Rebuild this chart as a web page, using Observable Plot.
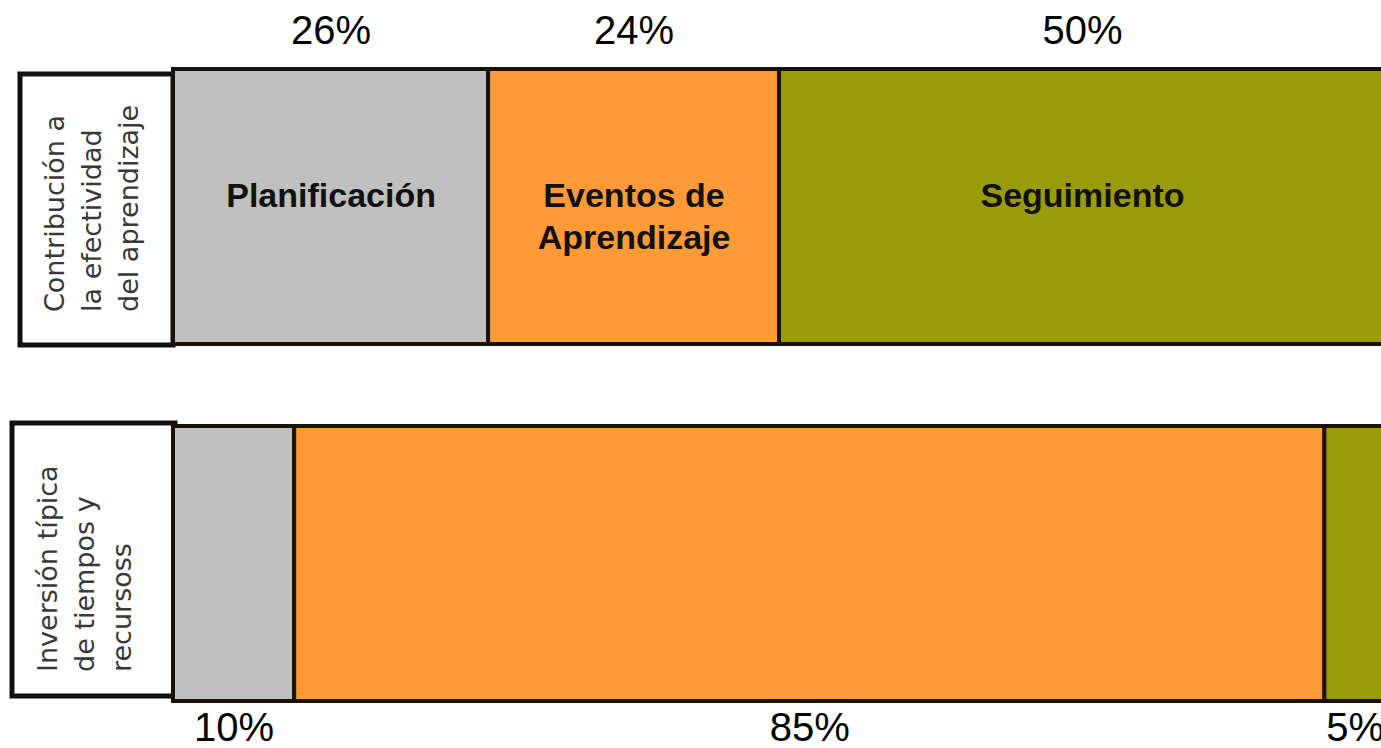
<!DOCTYPE html>
<html><head><meta charset="utf-8">
<script src="https://cdn.jsdelivr.net/npm/d3@7"></script>
<script src="https://cdn.jsdelivr.net/npm/@observablehq/plot@0.6"></script>
<style>html,body{margin:0;padding:0;background:#fff;overflow:hidden}</style>
</head><body><div id="chart"></div>
<script>
const categories = ["Planificación", "Eventos de\nAprendizaje", "Seguimiento"];
const rows = ["Contribución a\nla efectividad\ndel aprendizaje", "Inversión típica\nde tiempos y\nrecursoss"];
const effectivenessShare = [26, 24, 50];
const investmentShare = [10, 85, 5];
const colors = ["#c0c0c0", "#ff9a36", "#9a9b0a"];

const table = [
  ...categories.map((c, i) => ({row: rows[0], category: c, value: effectivenessShare[i]})),
  ...categories.map((c, i) => ({row: rows[1], category: c, value: investmentShare[i]}))
];
const topRow = table.filter(d => d.row === rows[0]);
const bottomRow = table.filter(d => d.row === rows[1]);

const W = 1381, H = 748, ML = 173, MT = 68, MB = 46;
const frameW = W - ML;
const pctFont = {fontFamily: "Liberation Sans, Arial, sans-serif", fontSize: 40, fill: "#000"};
const st = (extra) => Plot.stackX({x: "value", y: "row", z: "category", order: categories, ...extra});

const chart = Plot.plot({
  width: W, height: H,
  marginLeft: ML, marginRight: 0, marginTop: MT, marginBottom: MB,
  x: {domain: [0, 100], range: [ML, W + 4], axis: null},
  y: {domain: rows, paddingInner: 0.229, paddingOuter: 0, axis: null},
  color: {domain: categories, range: colors},
  marks: [
    Plot.cell([rows[0]], {y: d => d, fill: "white", stroke: "#111", strokeWidth: 5,
      insetLeft: -153, insetRight: frameW, insetTop: 5, insetBottom: -1}),
    Plot.cell([rows[1]], {y: d => d, fill: "white", stroke: "#111", strokeWidth: 5,
      insetLeft: -161, insetRight: frameW - 2, insetTop: -3, insetBottom: 5}),
    Plot.barX(table, st({fill: "category", stroke: "#1a1208", strokeWidth: 4})),
    Plot.textX(topRow, st({text: "category", fill: "#111", fontFamily: "Liberation Sans, Arial, sans-serif",
      fontSize: 34, fontWeight: "bold", lineAnchor: "top", lineHeight: 1.24, dy: -30})),
    Plot.textX(topRow, st({text: d => d.value + "%", ...pctFont, lineAnchor: "bottom", dy: -163})),
    Plot.textX(bottomRow, st({text: d => d.value + "%", ...pctFont, lineAnchor: "bottom", dy: 177})),
    Plot.text([rows[0]], {y: d => d, text: d => d, frameAnchor: "left", dx: -136, dy: 105, rotate: -90,
      textAnchor: "start", lineAnchor: "top", fontFamily: "DejaVu Sans", fontSize: 27, lineHeight: 1.37, fill: "#383838"}),
    Plot.text([rows[1]], {y: d => d, text: d => d, frameAnchor: "left", dx: -143, dy: 108, rotate: -90,
      textAnchor: "start", lineAnchor: "top", fontFamily: "DejaVu Sans", fontSize: 27, lineHeight: 1.37, fill: "#383838"})
  ]
});
document.getElementById("chart").appendChild(chart);
</script>
</body></html>
